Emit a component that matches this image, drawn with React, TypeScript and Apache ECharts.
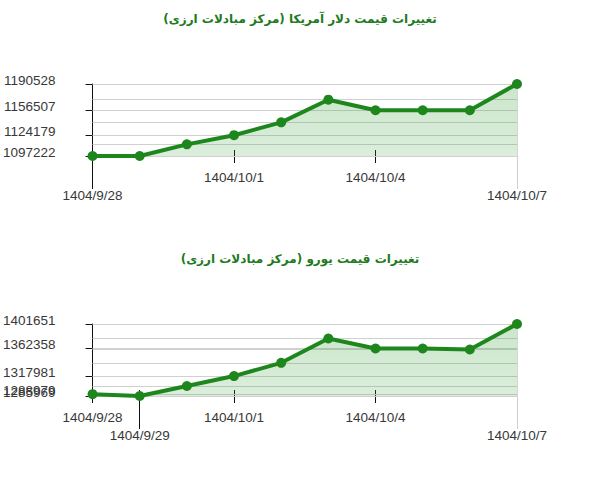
import React, { useEffect, useRef } from "react";
import * as echarts from "echarts";

const dates = ["1404/9/28", "1404/9/29", "1404/9/30", "1404/10/1", "1404/10/2", "1404/10/3", "1404/10/4", "1404/10/5", "1404/10/6", "1404/10/7"];

const usdTitle = "تغییرات قیمت دلار آمریکا (مرکز مبادلات ارزی)";
const usdValues = [1097222, 1097222, 1112300, 1124179, 1140800, 1170200, 1156507, 1156507, 1156507, 1190528];
const usdTicks = [1097222, 1124179, 1156507, 1190528];
const usdExtraTicks: number[] = [];
const usdHighLabels = [3, 6];
const usdLowLabels = [0, 9];
const usdLowBlack = [0];

const eurTitle = "تغییرات قیمت یورو (مرکز مبادلات ارزی)";
const eurValues = [1288979, 1285969, 1302000, 1317981, 1339300, 1378300, 1362358, 1362358, 1360700, 1401651];
const eurTicks = [1285969, 1317981, 1362358, 1401651];
const eurExtraTicks = [1288979];
const eurHighLabels = [0, 3, 6];
const eurLowLabels = [1, 9];
const eurLowBlack = [1];

const lastIdx = [9];

const GREEN = "#1d871d";
const numFont = "Liberation Sans, Arial, sans-serif";

function yLabel(values: number[], margin: number) {
  return {
    show: values.length > 0,
    customValues: values,
    margin,
    showMinLabel: true,
    showMaxLabel: true,
    hideOverlap: false,
    formatter: (v: number) => "{a|" + String(v) + "}",
    rich: {
      a: { fontSize: 13.5, color: "#383838", fontFamily: numFont, padding: [0, 0, 7, 0] },
    },
  };
}

function buildPanel(gi: number, values: number[], ticks: number[], extra: number[], high: number[], low: number[], lowBlack: number[]) {
  const min = Math.min(...values);
  const max = Math.max(...values);
  const pick = (arr: number[]) => (i: number) => arr.indexOf(i) >= 0;
  const base = { type: "category", data: dates, boundaryGap: false, gridIndex: gi, position: "bottom", offset: 0 };
  const xAxes = [
    {
      ...base,
      axisLine: { show: true, lineStyle: { color: "#9a9a9a", width: 1 } },
      axisTick: { show: true, interval: pick(high), length: 7, lineStyle: { color: "#111", width: 1 } },
      axisLabel: { show: true, interval: pick(high), margin: 14, fontSize: 13.5, color: "#383838", fontFamily: numFont },
      splitLine: { show: false },
    },
    {
      ...base,
      axisLine: { show: false },
      axisTick: { show: true, inside: true, interval: pick([...high, ...lowBlack]), length: 6, lineStyle: { color: "#111", width: 1 } },
      axisLabel: { show: false },
      splitLine: { show: false },
    },
    {
      ...base,
      axisLine: { show: false },
      axisTick: { show: true, interval: pick(lowBlack), length: 33, lineStyle: { color: "#111", width: 1 } },
      axisLabel: { show: true, interval: pick(low), margin: 32, fontSize: 13.5, color: "#383838", fontFamily: numFont },
      splitLine: { show: false },
    },
    {
      ...base,
      axisLine: { show: false },
      axisTick: { show: true, interval: pick(lastIdx), length: 33, lineStyle: { color: "#cfcfcf", width: 1 } },
      axisLabel: { show: false },
      splitLine: { show: true, interval: pick(lastIdx), lineStyle: { color: "#d6d6d6", width: 1 } },
    },
  ];
  const yBase = { type: "value", gridIndex: gi, min, max, position: "left", offset: 0, splitLine: { show: false } };
  const yAxes = [
    {
      ...yBase,
      axisLine: { show: true, lineStyle: { color: "#111", width: 1 } },
      axisTick: { show: true, customValues: ticks, length: 7, lineStyle: { color: "#111" } },
      axisLabel: yLabel(ticks, 37),
    },
    {
      ...yBase,
      axisLine: { show: false },
      axisTick: { show: true, inside: true, customValues: [...ticks, ...extra], length: 7, lineStyle: { color: "#111" } },
      axisLabel: yLabel(extra, 37),
    },
  ];
  const uniq = Array.from(new Set(values));
  const series = {
    type: "line",
    xAxisIndex: gi * 4,
    yAxisIndex: gi * 2,
    data: values,
    symbol: "circle",
    symbolSize: 10,
    showSymbol: true,
    lineStyle: { color: GREEN, width: 4 },
    itemStyle: { color: GREEN },
    areaStyle: {
      origin: "start",
      color: new echarts.graphic.LinearGradient(0, 0, 0, 1, [
        { offset: 0, color: "rgba(60,160,60,0.38)" },
        { offset: 1, color: "rgba(60,160,60,0.26)" },
      ]),
    },
    markLine: {
      silent: true,
      symbol: "none",
      label: { show: false },
      lineStyle: { color: "#d0d0d0", type: "solid", width: 1.2 },
      data: uniq.map((v) => ({ yAxis: v })),
      z: 1,
    },
    z: 3,
  };
  return { xAxes, yAxes, series };
}

export default function App() {
  const ref = useRef<HTMLDivElement>(null);
  useEffect(() => {
    if (!ref.current) return;
    const chart = echarts.init(ref.current, undefined, { renderer: "svg" });
    const p1 = buildPanel(0, usdValues, usdTicks, usdExtraTicks, usdHighLabels, usdLowLabels, usdLowBlack);
    const p2 = buildPanel(1, eurValues, eurTicks, eurExtraTicks, eurHighLabels, eurLowLabels, eurLowBlack);
    const titleStyle = { fontSize: 12, fontWeight: "bold", color: "#207a20", fontFamily: "DejaVu Sans, Tahoma, sans-serif" };
    chart.setOption({
      animation: false,
      backgroundColor: "#ffffff",
      title: [
        { text: usdTitle, left: "center", top: 8, textStyle: titleStyle },
        { text: eurTitle, left: "center", top: 248, textStyle: titleStyle },
      ],
      grid: [
        { left: 85, width: 432, top: 84, height: 72 },
        { left: 85, width: 432, top: 324, height: 72 },
      ],
      xAxis: [...p1.xAxes, ...p2.xAxes],
      yAxis: [...p1.yAxes, ...p2.yAxes],
      series: [p1.series, p2.series],
    });
    return () => chart.dispose();
  }, []);
  return <div ref={ref} style={{ position: "absolute", left: 0, top: 0, width: 600, height: 480 }} />;
}
